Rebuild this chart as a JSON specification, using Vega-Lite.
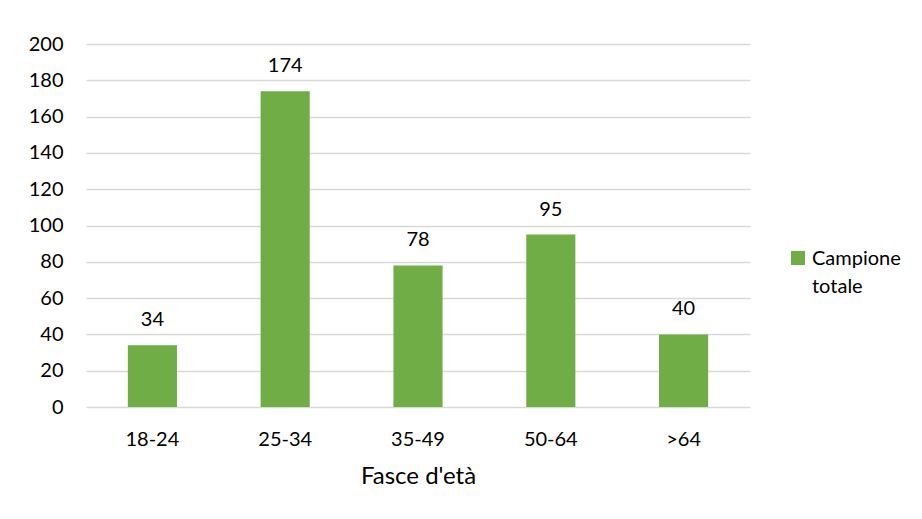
{
  "$schema": "https://vega.github.io/schema/vega-lite/v6.json",
  "width": 664,
  "height": 363,
  "autosize": {"type": "none"},
  "padding": {"left": 86, "top": 44, "right": 172, "bottom": 112},
  "background": "white",
  "config": {
    "font": "Lato",
    "view": {"stroke": null},
    "style": {"guide-label": {"lineHeight": 28}}
  },
  "data": {
    "values": [
      {"fascia": "18-24", "valore": 34},
      {"fascia": "25-34", "valore": 174},
      {"fascia": "35-49", "valore": 78},
      {"fascia": "50-64", "valore": 95},
      {"fascia": ">64", "valore": 40}
    ]
  },
  "encoding": {
    "x": {
      "field": "fascia",
      "type": "nominal",
      "sort": null,
      "title": "Fasce d'età",
      "scale": {"paddingInner": 0.63, "paddingOuter": 0.315},
      "axis": {
        "domain": false,
        "ticks": false,
        "labelAngle": 0,
        "labelFontSize": 20,
        "labelColor": "#000000",
        "labelPadding": 22,
        "titleFontSize": 24,
        "titleFontWeight": "normal",
        "titleColor": "#000000",
        "titlePadding": 15
      }
    },
    "y": {
      "field": "valore",
      "type": "quantitative",
      "title": null,
      "scale": {"domain": [0, 200], "nice": false},
      "axis": {
        "values": [0, 20, 40, 60, 80, 100, 120, 140, 160, 180, 200],
        "domain": false,
        "ticks": false,
        "grid": true,
        "gridColor": "#D9D9D9",
        "gridWidth": 1.5,
        "labelFontSize": 20,
        "labelColor": "#000000",
        "labelPadding": 23
      }
    }
  },
  "layer": [
    {
      "mark": {"type": "bar"},
      "encoding": {
        "color": {
          "datum": "Campione totale",
          "scale": {"range": ["#70AD47"]},
          "legend": {
            "title": null,
            "orient": "none",
            "legendX": 702,
            "legendY": 211,
            "padding": 0,
            "symbolType": "M-1,-2H1V0H-1Z",
            "symbolSize": 196,
            "symbolStrokeWidth": 0,
            "symbolOpacity": 1,
            "labelFontSize": 20,
            "labelColor": "#000000",
            "labelOffset": 4,
            "labelBaseline": "alphabetic",
            "labelExpr": "['Campione', 'totale']"
          }
        }
      }
    },
    {
      "mark": {
        "type": "text",
        "baseline": "alphabetic",
        "dy": -19,
        "fontSize": 20,
        "color": "#000000"
      },
      "encoding": {"text": {"field": "valore", "type": "quantitative"}}
    }
  ]
}
